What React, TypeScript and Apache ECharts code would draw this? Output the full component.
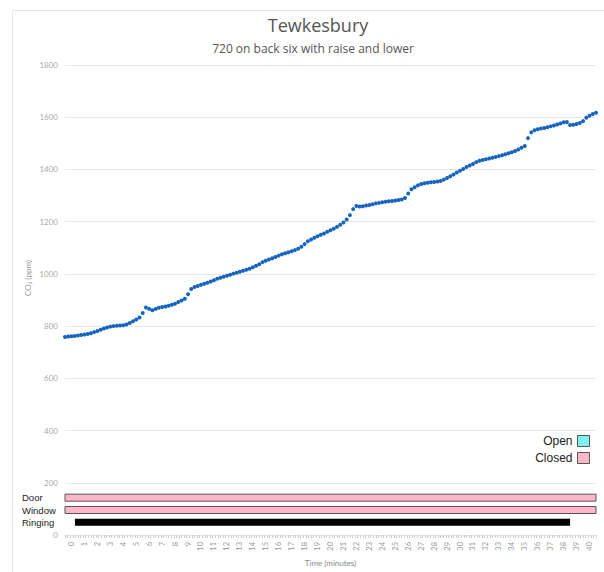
import React, { useEffect, useRef } from "react";
import * as echarts from "echarts";

const TITLE = "Tewkesbury";
const SUBTITLE = "720 on back six with raise and lower";
const Y_NAME = "CO₂ (ppm)";
const X_NAME = "Time (minutes)";

const minuteLabels = [
  "0", "1", "2", "3", "4", "5", "6", "7", "8", "9", "10",
  "11", "12", "13", "14", "15", "16", "17", "18", "19", "20",
  "21", "22", "23", "24", "25", "26", "27", "28", "29", "30",
  "31", "32", "33", "34", "35", "36", "37", "38", "39", "40",
];

const SAMPLE_STEP_MIN = 0.25; // minutes between CO2 readings
const co2 = [
  758, 760, 761, 762, 764, 766, 768, 770, 773, 777, 781, 786,
  791, 795, 798, 800, 801, 802, 803, 806, 812, 819, 825, 833,
  850, 871, 866, 861, 866, 870, 873, 875, 878, 882, 886, 892,
  898, 905, 922, 942, 950, 954, 958, 962, 966, 971, 976, 981,
  985, 989, 993, 997, 1001, 1004, 1008, 1012, 1016, 1020, 1025, 1031,
  1037, 1045, 1050, 1055, 1060, 1065, 1070, 1075, 1079, 1083, 1087, 1091,
  1096, 1104, 1114, 1125, 1132, 1138, 1144, 1150, 1155, 1161, 1167, 1173,
  1180, 1188, 1197, 1208, 1225, 1248, 1260, 1258, 1259, 1262, 1264, 1267,
  1270, 1272, 1274, 1276, 1278, 1279, 1281, 1283, 1285, 1291, 1308, 1324,
  1332, 1339, 1344, 1347, 1349, 1351, 1352, 1354, 1356, 1361, 1367, 1374,
  1381, 1388, 1395, 1402, 1409, 1415, 1421, 1428, 1433, 1436, 1439, 1442,
  1445, 1448, 1451, 1454, 1458, 1462, 1466, 1471, 1476, 1483, 1490, 1520,
  1542, 1550, 1554, 1557, 1559, 1562, 1565, 1568, 1572, 1576, 1581, 1582,
  1570, 1571, 1574, 1578, 1585, 1598, 1606, 1612, 1617,
];

const rows = ["Door", "Window", "Ringing"];
// [start minute, end minute, row]
const closedSpans: [number, number, string][] = [
  [0, 41, "Door"],
  [0, 41, "Window"],
];
const openSpans: [number, number, string][] = [];
const ringingSpans: [number, number, string][] = [[0.77, 39.0, "Ringing"]];

const X_MIN = 0;
const X_MAX = 41;
const Y_MIN = 0;
const Y_MAX = 1800;
const Y_STEP = 200;

const BLUE = "#1565c0";
const PINK = "#ffb6c9";
const CYAN = "#80f0f0";
const BORDER = "#555555";

function makeBarRenderer(fill: string, stroke: string | null) {
  return (params: any, api: any) => {
    const s = api.coord([api.value(0), api.value(2)]);
    const e = api.coord([api.value(1), api.value(2)]);
    const h = 7;
    return {
      type: "rect",
      shape: { x: s[0], y: s[1] - h / 2, width: e[0] - s[0], height: h },
      style: stroke
        ? { fill, stroke, lineWidth: 1 }
        : { fill },
    };
  };
}

export default function App() {
  const ref = useRef<HTMLDivElement>(null);
  useEffect(() => {
    if (!ref.current) return;
    const chart = echarts.init(ref.current, undefined, { renderer: "svg" });
    const points = co2.map((v, i) => [i * SAMPLE_STEP_MIN, v]);
    const axisFont = "Lato, 'Noto Sans', sans-serif";
    const labelFont = "'Liberation Sans', Arial, sans-serif";
    chart.setOption({
      animation: false,
      backgroundColor: "#ffffff",
      graphic: [
        {
          type: "rect",
          silent: true,
          shape: { x: 12.5, y: 10.5, width: 640, height: 620 },
          style: { fill: "none", stroke: "#e6e6e6", lineWidth: 1 },
        },
        {
          type: "text",
          x: 318,
          y: 25,
          style: {
            text: TITLE,
            align: "center",
            verticalAlign: "middle",
            fontSize: 18,
            fontFamily: "'Open Sans', sans-serif",
            fill: "#555555",
          },
        },
        {
          type: "text",
          x: 313,
          y: 48,
          style: {
            text: SUBTITLE,
            align: "center",
            verticalAlign: "middle",
            fontSize: 12,
            fontFamily: "'Open Sans', sans-serif",
            fill: "#555555",
          },
        },
        {
          type: "text",
          x: 28,
          y: 278,
          rotation: Math.PI / 2,
          style: {
            text: Y_NAME,
            align: "center",
            verticalAlign: "middle",
            fontSize: 8,
            fontFamily: axisFont,
            fill: "#999999",
          },
        },
      ],
      legend: {
        orient: "vertical",
        right: 9,
        top: 430,
        align: "right",
        icon: "rect",
        itemWidth: 12,
        itemHeight: 11,
        itemGap: 5,
        textStyle: { fontSize: 12, color: "#222222", fontFamily: labelFont },
        data: [
          { name: "Open", itemStyle: { color: CYAN, borderColor: BORDER, borderWidth: 1 } },
          { name: "Closed", itemStyle: { color: PINK, borderColor: BORDER, borderWidth: 1 } },
        ],
      },
      grid: [
        { left: 65, right: 8, top: 65, height: 473 },
        { left: 65, right: 8, top: 491.5, height: 37 },
      ],
      xAxis: [
        {
          type: "category",
          gridIndex: 0,
          position: "bottom",
          data: minuteLabels,
          boundaryGap: true,
          name: X_NAME,
          nameLocation: "middle",
          nameGap: 24,
          nameTextStyle: { fontSize: 8, color: "#888888", fontFamily: axisFont },
          axisLine: { show: false },
          axisTick: { show: false },
          axisLabel: {
            rotate: 90,
            interval: 0,
            fontSize: 7.5,
            color: "#999999",
            fontFamily: axisFont,
            margin: 7,
          },
          splitLine: { show: false },
        },
        {
          type: "value",
          gridIndex: 0,
          position: "bottom",
          min: X_MIN,
          max: X_MAX,
          interval: 1,
          axisLine: { show: false },
          axisLabel: { show: false },
          axisTick: { show: true, length: 3, lineStyle: { color: "#cccccc" } },
          minorTick: { show: true, splitNumber: 5, length: 3, lineStyle: { color: "#cccccc" } },
          splitLine: { show: false },
        },
        {
          type: "value",
          gridIndex: 1,
          min: X_MIN,
          max: X_MAX,
          show: false,
        },
      ],
      yAxis: [
        {
          type: "value",
          gridIndex: 0,
          min: Y_MIN,
          max: Y_MAX,
          interval: Y_STEP,
          axisLine: { show: false },
          axisTick: { show: false },
          axisLabel: {
            fontSize: 8,
            color: "#aaaaaa",
            fontFamily: axisFont,
            margin: 7,
            formatter: (v: number) => String(v),
          },
          splitLine: { lineStyle: { color: "#e8e8e8", width: 1 } },
        },
        {
          type: "category",
          gridIndex: 1,
          data: rows,
          inverse: true,
          axisLine: { show: false },
          axisTick: { show: false },
          splitLine: { show: false },
          axisLabel: {
            interval: 0,
            align: "left",
            margin: 43,
            fontSize: 9.5,
            color: "#222222",
            fontFamily: labelFont,
          },
        },
      ],
      series: [
        {
          name: "CO2",
          type: "scatter",
          xAxisIndex: 1,
          yAxisIndex: 0,
          data: points,
          symbolSize: 4,
          itemStyle: { color: BLUE, opacity: 1 },
          silent: true,
        },
        {
          name: "Closed",
          type: "custom",
          xAxisIndex: 2,
          yAxisIndex: 1,
          encode: { x: [0, 1], y: 2 },
          itemStyle: { color: PINK },
          renderItem: makeBarRenderer(PINK, BORDER),
          data: closedSpans,
        },
        {
          name: "Open",
          type: "custom",
          xAxisIndex: 2,
          yAxisIndex: 1,
          encode: { x: [0, 1], y: 2 },
          itemStyle: { color: CYAN },
          renderItem: makeBarRenderer(CYAN, BORDER),
          data: openSpans,
        },
        {
          name: "Ringing",
          type: "custom",
          xAxisIndex: 2,
          yAxisIndex: 1,
          encode: { x: [0, 1], y: 2 },
          itemStyle: { color: "#000000" },
          renderItem: makeBarRenderer("#000000", null),
          data: ringingSpans,
        },
      ],
    });
    return () => chart.dispose();
  }, []);
  return (
    <div
      ref={ref}
      style={{ position: "absolute", left: 0, top: 0, width: 604, height: 572, background: "#fff" }}
    />
  );
}
